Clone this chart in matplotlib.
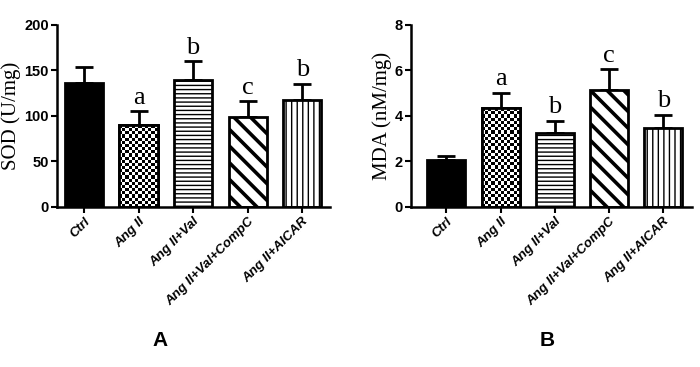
import matplotlib
matplotlib.use('Agg')
import matplotlib.pyplot as plt
import numpy as np

groups = ['Ctrl', 'Ang II', 'Ang II+Val', 'Ang II+Val+CompC', 'Ang II+AICAR']

sod_mean = [136, 90, 140, 99, 117]
sod_err = [18, 15, 20, 17, 18]
sod_letters = ['', 'a', 'b', 'c', 'b']

mda_mean = [2.07, 4.33, 3.25, 5.13, 3.46]
mda_err = [0.18, 0.70, 0.55, 0.92, 0.59]
mda_letters = ['', 'a', 'b', 'c', 'b']

hatches = [None, 'checker', '----', '\\\\', '|||']
hatch_lw = [0, 0, 1.0, 2.6, 1.0]

plt.rcParams['hatch.color'] = 'black'


def panel(ax, means, errs, letters, ylabel, ymax, ystep, xlim, letter_pad):
    x = np.arange(len(groups))
    ax.set_xlim(*xlim)
    ax.set_ylim(0, ymax)
    bars = ax.bar(x, means, width=0.70, color='white', edgecolor='black',
                  linewidth=2, zorder=2)
    for bar, h, hlw in zip(bars, hatches, hatch_lw):
        if h is None:
            bar.set_facecolor('black')
        elif h == 'checker':
            x0, y0 = bar.get_x(), bar.get_y()
            w, hgt = bar.get_width(), bar.get_height()
            p0 = ax.transData.transform((x0, y0))
            p1 = ax.transData.transform((x0 + w, y0 + hgt))
            ncol = 12
            sq = (p1[0] - p0[0]) / ncol
            nrow = max(1, int(round((p1[1] - p0[1]) / sq)))
            board = (np.add.outer(np.arange(nrow), np.arange(ncol)) % 2)
            im = ax.imshow(board, cmap='gray', extent=(x0, x0 + w, y0, y0 + hgt),
                           interpolation='nearest', aspect='auto', zorder=2.5)
            im.set_clip_path(bar)
            ax.bar(bar.get_x() + w / 2, hgt, width=w, color='none',
                   edgecolor='black', linewidth=2, zorder=3)
        else:
            bar.set_hatch(h)
            if hasattr(bar, 'set_hatch_linewidth'):
                bar.set_hatch_linewidth(hlw)
    ax.set_xlim(*xlim)
    ax.set_ylim(0, ymax)
    ax.errorbar(x, means, yerr=[np.zeros(len(errs)), errs], fmt='none',
                ecolor='black', elinewidth=2, capsize=6.5, capthick=2, zorder=1)
    for xi, m, e, lab in zip(x, means, errs, letters):
        if lab:
            ax.text(xi, m + e + letter_pad, lab, ha='center', va='bottom',
                    family='Liberation Serif', fontsize=19)
    ax.set_yticks(np.arange(0, ymax + ystep / 2, ystep))
    ax.set_xticks(x)
    ax.set_xticklabels(groups, rotation=45, ha='right', rotation_mode='anchor',
                       fontsize=9.5, fontweight='bold', fontstyle='italic',
                       family='Liberation Sans')
    for t in ax.get_yticklabels():
        t.set_fontweight('bold')
        t.set_family('Liberation Sans')
        t.set_fontsize(10.5)
    ax.set_ylabel(ylabel, family='Liberation Serif', fontsize=15, labelpad=2)
    for s in ['top', 'right']:
        ax.spines[s].set_visible(False)
    for s in ['left', 'bottom']:
        ax.spines[s].set_linewidth(1.8)
    ax.tick_params(width=1.5, length=4, pad=2)


fig = plt.figure(figsize=(7, 3.67), dpi=100)
ax1 = fig.add_axes([0.0814, 0.436, 0.390, 0.496])
ax2 = fig.add_axes([0.587, 0.436, 0.401, 0.496])

panel(ax1, sod_mean, sod_err, sod_letters, 'SOD (U/mg)', 200, 50,
      (-0.495, 4.51), 3)
panel(ax2, mda_mean, mda_err, mda_letters, 'MDA (nM/mg)', 8, 2,
      (-0.656, 4.52), 0.12)

fig.text(160 / 700, 1 - 340 / 367, 'A', ha='center', va='center',
         fontsize=15, fontweight='bold', family='Liberation Sans')
fig.text(547 / 700, 1 - 340 / 367, 'B', ha='center', va='center',
         fontsize=15, fontweight='bold', family='Liberation Sans')

fig.savefig('out.png', dpi=100)
